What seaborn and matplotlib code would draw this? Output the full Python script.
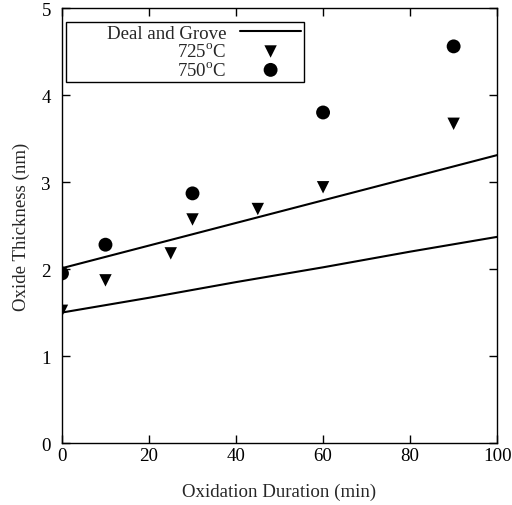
import numpy as np
import pandas as pd
import matplotlib
matplotlib.use('Agg')
import matplotlib.pyplot as plt
import seaborn as sns

# Deal and Grove model curves (two temperatures)
dg_time = [0, 20, 40, 60, 80, 100]
dg_low = [1.50, 1.67, 1.85, 2.02, 2.20, 2.37]
dg_high = [2.01, 2.27, 2.53, 2.79, 3.05, 3.31]

# measured data
t725 = [0, 10, 25, 30, 45, 60, 90]
th725 = [1.52, 1.87, 2.18, 2.57, 2.69, 2.94, 3.67]
t750 = [0, 10, 30, 60, 90]
th750 = [1.95, 2.28, 2.87, 3.80, 4.56]

sns.set_style('ticks')
plt.rcParams['font.family'] = ['Liberation Serif', 'DejaVu Serif']
plt.rcParams['mathtext.fontset'] = 'custom'
plt.rcParams['mathtext.rm'] = 'Liberation Serif'
fs = 13.6

fig = plt.figure(figsize=(5.12, 5.06), dpi=100)
ax = fig.add_axes([0.121, 0.1225, 0.850, 0.8595])

sns.lineplot(x=dg_time, y=dg_low, ax=ax, color='black', linewidth=1.5,
             label='        Deal and Grove')
sns.lineplot(x=dg_time, y=dg_high, ax=ax, color='black', linewidth=1.5,
             label='_nolegend_')
sns.scatterplot(x=t725, y=th725, ax=ax, marker='v', s=80, color='black',
                edgecolor='none', label='725$^{\\mathrm{o}}$C', zorder=3)
sns.scatterplot(x=t750, y=th750, ax=ax, marker='o', s=100, color='black',
                edgecolor='none', label='750$^{\\mathrm{o}}$C', zorder=3)

ax.set_xlim(0, 100)
ax.set_ylim(0, 5)
ax.set_xticks([0, 20, 40, 60, 80, 100])
ax.set_yticks([0, 1, 2, 3, 4, 5])
ax.tick_params(direction='in', length=6, width=1, top=True, right=True,
               labelsize=fs, colors='black')
ax.tick_params(axis='x', pad=3)
ax.tick_params(axis='y', pad=8)
for sp in ax.spines.values():
    sp.set_color('black')
    sp.set_linewidth(1)
ax.set_xlabel('Oxidation Duration (min)', fontsize=fs, labelpad=13)
ax.set_ylabel('Oxide Thickness (nm)', fontsize=fs, labelpad=8)

leg = ax.legend(loc='upper left', bbox_to_anchor=(0.009, 0.968), markerfirst=False,
                fancybox=False, framealpha=1, edgecolor='black', fontsize=fs,
                labelspacing=0.02, borderpad=0.15, handlelength=3.2,
                handletextpad=0.75, borderaxespad=0)
leg.get_frame().set_linewidth(1)

plt.savefig('out.png', dpi=100)
